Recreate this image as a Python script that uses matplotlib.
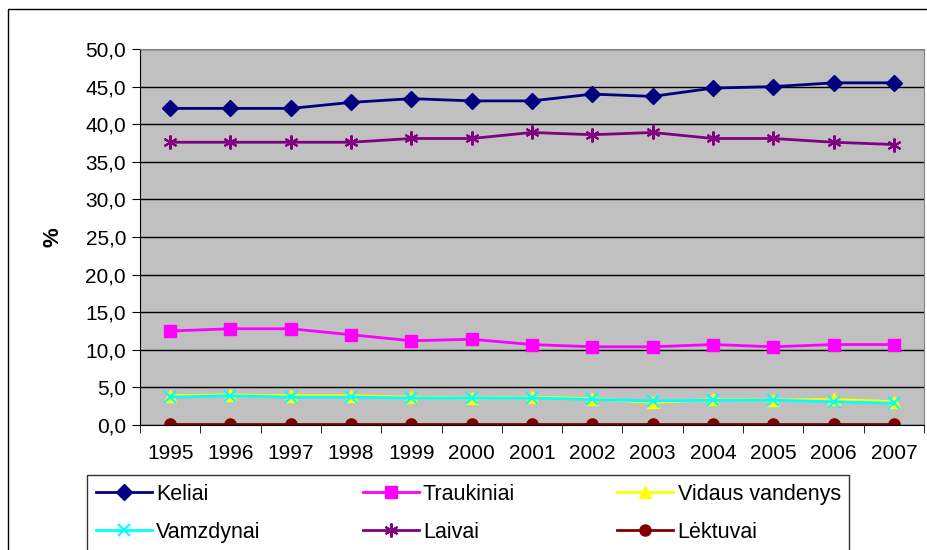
import matplotlib.pyplot as plt
from matplotlib.patches import Rectangle

plt.rcParams['font.family'] = ['Liberation Sans', 'DejaVu Sans']

years = ['1995', '1996', '1997', '1998', '1999', '2000', '2001',
         '2002', '2003', '2004', '2005', '2006', '2007']

keliai = [42.1, 42.1, 42.1, 42.9, 43.4, 43.1, 43.1, 44.0, 43.7, 44.8, 45.0, 45.5, 45.5]
traukiniai = [12.5, 12.8, 12.8, 12.0, 11.2, 11.4, 10.7, 10.4, 10.4, 10.7, 10.4, 10.7, 10.7]
vidaus = [3.9, 4.0, 3.9, 3.9, 3.7, 3.6, 3.7, 3.5, 3.0, 3.4, 3.3, 3.4, 3.1]
vamzdynai = [3.7, 3.9, 3.7, 3.7, 3.6, 3.6, 3.6, 3.4, 3.2, 3.3, 3.3, 3.1, 2.9]
laivai = [37.6, 37.6, 37.6, 37.6, 38.1, 38.1, 38.9, 38.6, 38.9, 38.1, 38.1, 37.6, 37.3]
lektuvai = [0.1] * 13

series = [
    ('Keliai', keliai, '#000080', 'D', 8),
    ('Traukiniai', traukiniai, '#FF00FF', 's', 8),
    ('Vidaus vandenys', vidaus, '#FFFF00', '^', 9),
    ('Vamzdynai', vamzdynai, '#00FFFF', 'x', 9),
    ('Laivai', laivai, '#800080', (6, 2, 0), 10),
    ('Lėktuvai', lektuvai, '#800000', 'o', 8),
]

fig = plt.figure(figsize=(9.28, 5.5), dpi=100)
ax = fig.add_axes([140 / 928, 1 - 425 / 550, 784 / 928, 376 / 550])
ax.set_facecolor('#C0C0C0')

x = list(range(len(years)))
handles = {}
for name, vals, col, mk, ms in series:
    mew = 1.5 if mk == 'x' or isinstance(mk, tuple) else 1
    h, = ax.plot(x, vals, color=col, marker=mk, markersize=ms, linewidth=2,
                 markeredgewidth=mew, label=name)
    handles[name] = h

ax.set_xlim(-0.5, len(years) - 0.5)
ax.set_ylim(0, 50)
ax.set_yticks([i * 5 for i in range(11)])
ax.set_yticklabels([f'{i * 5:.1f}'.replace('.', ',') for i in range(11)], fontsize=15)
ax.yaxis.grid(True, color='black', linewidth=1)
ax.set_axisbelow(True)
ax.set_xticks(x)
ax.set_xticklabels(years, fontsize=15)
ax.set_xticks([i + 0.5 for i in range(-1, len(years))], minor=True)
ax.tick_params(axis='x', which='major', length=0, pad=14)
ax.tick_params(axis='x', which='minor', length=6, direction='out', color='black')
ax.tick_params(axis='y', length=6, direction='out', pad=4)
ax.set_ylabel('%', fontsize=16, fontweight='bold', labelpad=16)
for s in ['top', 'right']:
    ax.spines[s].set_color('#808080')
for s in ['left', 'bottom']:
    ax.spines[s].set_color('black')

order = ['Keliai', 'Vamzdynai', 'Traukiniai', 'Laivai', 'Vidaus vandenys', 'Lėktuvai']
leg = fig.legend([handles[n] for n in order], order, ncol=3,
                 loc='upper left',
                 bbox_to_anchor=(87 / 928, 1 - 475 / 550),
                 fontsize=15.5, frameon=True, fancybox=False,
                 edgecolor='black', handlelength=2.6, handletextpad=0.2,
                 borderpad=0.4, borderaxespad=0, labelspacing=0.8,
                 columnspacing=4.75)
leg.get_frame().set_linewidth(1)

fig.patches.append(Rectangle((8 / 928, -0.01), 1.0, 1 - 9 / 550 + 0.01,
                             transform=fig.transFigure, fill=False,
                             edgecolor='black', linewidth=1))

fig.savefig('out.png', dpi=100)
